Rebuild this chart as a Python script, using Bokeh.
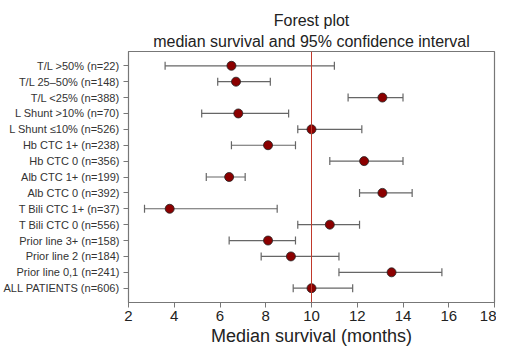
from bokeh.plotting import figure
from bokeh.models import ColumnDataSource, FactorRange, Whisker, TeeHead, Span, Title, FixedTicker
from bokeh.embed import file_html
from bokeh.resources import INLINE

labels = ["T/L >50% (n=22)", "T/L 25\u201350% (n=148)", "T/L <25% (n=388)",
          "L Shunt >10% (n=70)", "L Shunt \u226410% (n=526)", "Hb CTC 1+ (n=238)",
          "Hb CTC 0 (n=356)", "Alb CTC 1+ (n=199)", "Alb CTC 0 (n=392)",
          "T Bili CTC 1+ (n=37)", "T Bili CTC 0 (n=556)", "Prior line 3+ (n=158)",
          "Prior line 2 (n=184)", "Prior line 0,1 (n=241)", "ALL PATIENTS (n=606)"]
median = [6.5, 6.7, 13.1, 6.8, 10.0, 8.1, 12.3, 6.4, 13.1, 3.8, 10.8, 8.1, 9.1, 13.5, 10.0]
lower = [3.6, 5.9, 11.6, 5.2, 9.4, 6.5, 10.8, 5.4, 12.1, 2.7, 9.4, 6.4, 7.8, 11.2, 9.2]
upper = [11.0, 8.2, 14.0, 9.0, 12.2, 9.3, 14.0, 7.1, 14.4, 8.5, 12.1, 9.3, 11.2, 15.7, 11.8]
x_ticks = [2, 4, 6, 8, 10, 12, 14, 16, 18]
ref_value = 10
title_main = "Forest plot"
title_sub = "median survival and 95% confidence interval"

FONT = "Liberation Sans"

src = ColumnDataSource(dict(label=labels, median=median, lower=lower, upper=upper))

p = figure(width=496, height=348, output_backend="svg", toolbar_location=None,
           y_range=FactorRange(factors=labels[::-1], range_padding=0.4, range_padding_units="absolute"),
           x_range=(2, 18), min_border_left=0, min_border_right=2, min_border_bottom=0,
           min_border_top=0)

p.add_layout(Title(text=title_sub, align="center", text_font=FONT, text_font_size="16px",
                   text_font_style="normal", text_color="#222222", standoff=3), "above")
p.add_layout(Title(text=title_main, align="center", text_font=FONT, text_font_size="16px",
                   text_font_style="normal", text_color="#222222", standoff=1), "above")
p.add_layout(Title(text=" ", align="center", text_font=FONT, text_font_size="7px",
                   standoff=0), "above")

p.xgrid.visible = False
p.ygrid.visible = False
p.outline_line_color = "#777777"
p.outline_line_width = 1.2

p.add_layout(Span(location=ref_value, dimension="height", line_color="#c0392b", line_width=1))

head_l = TeeHead(size=8, line_color="#666666", line_width=1.2)
head_u = TeeHead(size=8, line_color="#666666", line_width=1.2)
w = Whisker(source=src, base="label", lower="lower", upper="upper", dimension="width",
            line_color="#666666", line_width=1.2, lower_head=head_l, upper_head=head_u)
p.add_layout(w)

p.scatter(x="median", y="label", source=src, size=9, fill_color="#8b0000",
          line_color="#222222", line_width=0.8)

p.xaxis.ticker = FixedTicker(ticks=x_ticks)
p.xaxis.axis_label = "Median survival (months)"
p.xaxis.axis_label_text_font = FONT
p.xaxis.axis_label_text_font_size = "18px"
p.xaxis.axis_label_text_font_style = "normal"
p.xaxis.axis_label_text_color = "#222222"
p.xaxis.axis_label_standoff = 2
p.xaxis.major_label_text_font = FONT
p.xaxis.major_label_text_font_size = "15px"
p.xaxis.major_label_text_color = "#222222"
p.xaxis.major_label_standoff = 3
p.xaxis.minor_tick_line_color = None
p.xaxis.major_tick_in = 0
p.xaxis.major_tick_out = 5
p.xaxis.axis_line_color = "#777777"
p.xaxis.major_tick_line_color = "#777777"

p.yaxis.major_label_text_font = FONT
p.yaxis.major_label_text_font_size = "11px"
p.yaxis.major_label_text_color = "#333333"
p.yaxis.major_tick_in = 0
p.yaxis.major_tick_out = 5
p.yaxis.axis_line_color = "#777777"
p.yaxis.major_tick_line_color = "#777777"
p.yaxis.major_label_standoff = 4

open("out.html", "w").write(file_html(p, INLINE))
